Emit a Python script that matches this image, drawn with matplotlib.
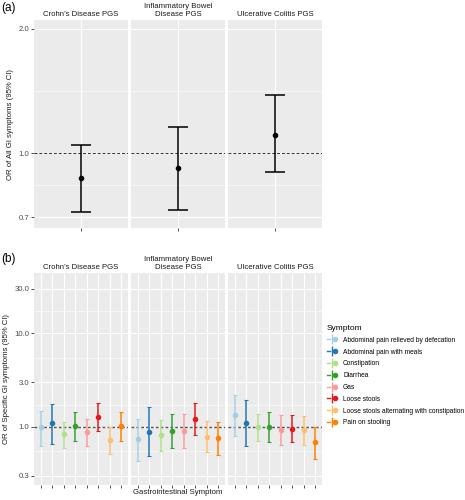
import numpy as np
import matplotlib
matplotlib.use("Agg")
import matplotlib.pyplot as plt
from matplotlib.lines import Line2D
from matplotlib.legend_handler import HandlerTuple
from matplotlib.ticker import FixedLocator, NullFormatter

plt.rcParams['font.family'] = ['Liberation Sans', 'DejaVu Sans']

panels = ["Crohn\u2019s Disease PGS", "Inflammatory Bowel\nDisease PGS", "Ulcerative Colitis PGS"]

# (a) overall OR
all_or = [0.87, 0.92, 1.11]
all_lo = [0.72, 0.73, 0.90]
all_hi = [1.05, 1.16, 1.38]

# (b) per symptom
symptoms = ["Abdominal pain relieved by defecation", "Abdominal pain with meals",
            "Constipation", "Diarrhea", "Gas", "Loose stools",
            "Loose stools alternating with constipation", "Pain on stooling"]
colors = ["#A6CEE3", "#1F78B4", "#B2DF8A", "#33A02C",
          "#FB9A99", "#E31A1C", "#FDBF6F", "#FF7F00"]
sym_or = [
    [0.99, 1.09, 0.85, 1.02, 0.88, 1.28, 0.73, 1.02],
    [0.75, 0.88, 0.83, 0.91, 0.91, 1.23, 0.79, 0.76],
    [1.33, 1.10, 0.99, 1.00, 0.92, 0.96, 0.92, 0.69],
]
sym_lo = [
    [0.63, 0.66, 0.60, 0.71, 0.62, 0.91, 0.52, 0.71],
    [0.43, 0.49, 0.56, 0.59, 0.60, 0.83, 0.54, 0.50],
    [0.81, 0.62, 0.71, 0.69, 0.64, 0.69, 0.64, 0.46],
]
sym_hi = [
    [1.48, 1.75, 1.13, 1.45, 1.23, 1.78, 0.99, 1.45],
    [1.23, 1.64, 1.18, 1.39, 1.37, 1.81, 1.16, 1.13],
    [2.18, 1.96, 1.37, 1.45, 1.33, 1.33, 1.30, 1.01],
]

W, H = 465, 500
fig = plt.figure(figsize=(W / 100, H / 100), dpi=100)
FS = 5.6

def ax_at(x0, y0, x1, y1):
    return fig.add_axes([x0 / W, 1 - y1 / H, (x1 - x0) / W, (y1 - y0) / H])

def style(ax, major, minor):
    ax.set_facecolor("#EBEBEB")
    for s in ax.spines.values():
        s.set_visible(False)
    ax.set_yscale("log")
    ax.yaxis.set_major_locator(FixedLocator(major))
    ax.yaxis.set_minor_locator(FixedLocator(minor))
    ax.yaxis.set_minor_formatter(NullFormatter())
    ax.grid(True, which="major", color="white", lw=0.8)
    ax.grid(True, which="minor", axis="y", color="white", lw=0.4)
    ax.set_axisbelow(True)
    ax.tick_params(which="major", length=2, width=0.6, color="#333333",
                   labelsize=FS, labelcolor="#4D4D4D", pad=1.5)
    ax.tick_params(which="minor", length=0)

xs = [(34, 128), (131, 225), (228, 322)]

# panel (a)
a_major = [0.7, 1.0, 2.0]
a_minor = [np.sqrt(0.7 * 1.0), np.sqrt(2.0)]
for i, (x0, x1) in enumerate(xs):
    ax = ax_at(x0, 20, x1, 228)
    style(ax, a_major, a_minor)
    ax.set_xlim(0.4, 1.6)
    ax.set_ylim(0.66, 2.1)
    ax.set_xticks([1])
    ax.set_xticklabels([""])
    ax.axhline(1.0, color="#333333", ls=(0, (3, 2)), lw=0.7)
    ax.errorbar([1], [all_or[i]], yerr=[[all_or[i] - all_lo[i]], [all_hi[i] - all_or[i]]],
                fmt="o", color="black", ms=3, lw=1.1, capsize=7, capthick=1.1)
    ax.set_title(panels[i], fontsize=FS, color="#1A1A1A", pad=3, linespacing=1.15)
    if i == 0:
        ax.set_yticklabels(["0.7", "1.0", "2.0"])
        ax.set_ylabel("OR of All GI symptoms (95% CI)", fontsize=FS, color="#1A1A1A", labelpad=3)
    else:
        ax.set_yticklabels([])
        ax.tick_params(axis="y", length=0)

# panel (b)
b_major = [0.3, 1.0, 3.0, 10.0, 30.0]
b_minor = [np.sqrt(0.3), np.sqrt(3.0), np.sqrt(30.0), np.sqrt(300.0)]
pos = np.arange(1, len(symptoms) + 1)
for i, (x0, x1) in enumerate(xs):
    ax = ax_at(x0, 273, x1, 485)
    style(ax, b_major, b_minor)
    ax.set_xlim(0.4, len(symptoms) + 0.6)
    ax.set_ylim(0.24, 44)
    ax.set_xticks(pos)
    ax.set_xticklabels([""] * len(pos))
    ax.axhline(1.0, color="#555555", ls=(0, (2, 1.5)), lw=1.0, zorder=1)
    for j, c in enumerate(colors):
        ax.errorbar([pos[j]], [sym_or[i][j]],
                    yerr=[[sym_or[i][j] - sym_lo[i][j]], [sym_hi[i][j] - sym_or[i][j]]],
                    fmt="o", color=c, ms=3.0, lw=1.1, capsize=1.2, capthick=0.8, zorder=3)
    ax.set_title(panels[i], fontsize=FS, color="#1A1A1A", pad=3, linespacing=1.15)
    if i == 0:
        ax.set_yticklabels(["0.3", "1.0", "3.0", "10.0", "30.0"])
        ax.set_ylabel("OR of Specific GI symptoms (95% CI)", fontsize=FS, color="#1A1A1A", labelpad=3)
    else:
        ax.set_yticklabels([])
        ax.tick_params(axis="y", length=0)

fig.text(178 / W, 1 - 492 / H, "Gastrointestinal Symptom", fontsize=FS,
         color="#1A1A1A", ha="center", va="center")
fig.text(1 / W, 1 - 8 / H, "(a)", fontsize=8.5, ha="left", va="center")
fig.text(1 / W, 1 - 259 / H, "(b)", fontsize=8.5, ha="left", va="center")

handles = []
for c in colors:
    handles.append((Line2D([], [], color=c, lw=1.0),
                    Line2D([], [], color=c, marker="|", ms=7, mew=1.0, ls="none"),
                    Line2D([], [], color=c, marker="o", ms=3.0, ls="none")))
leg = fig.legend(handles, symptoms, title="Symptom", loc="upper left",
                 bbox_to_anchor=(327 / W, 1 - 325 / H), frameon=False,
                 handler_map={tuple: HandlerTuple(ndivide=None, pad=0)},
                 fontsize=4.8, title_fontsize=6.0, handlelength=1.5,
                 labelspacing=0.72, handletextpad=0.9, borderaxespad=0, borderpad=0)
leg._legend_box.align = "left"

fig.savefig("out.png", dpi=100)
